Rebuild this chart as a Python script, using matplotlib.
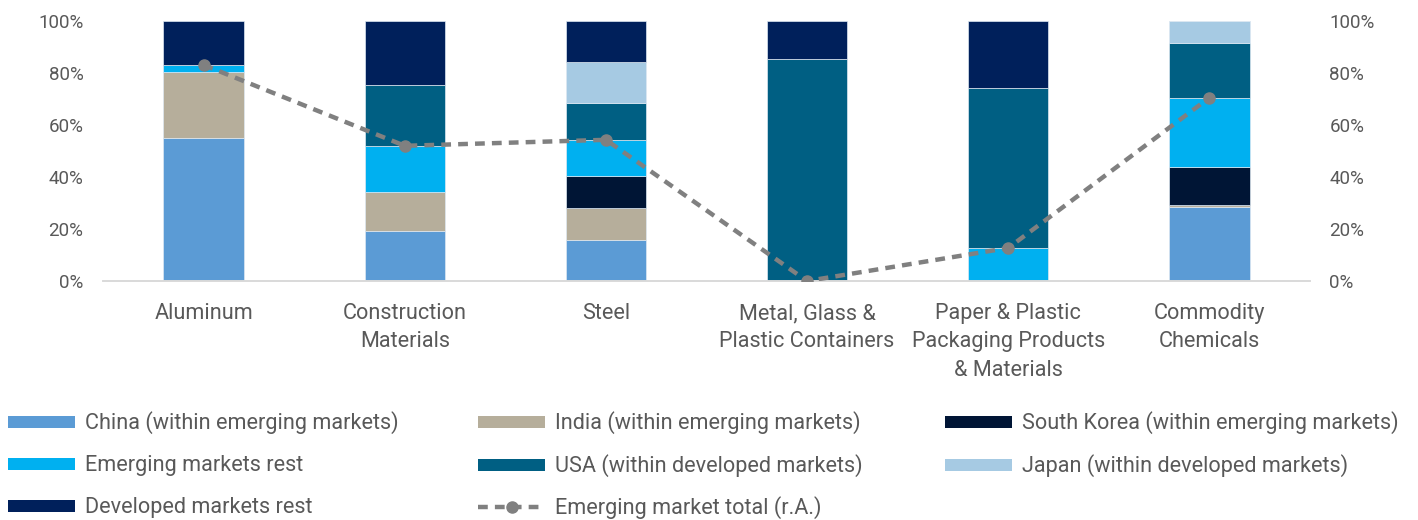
import matplotlib
matplotlib.use("Agg")
import matplotlib.pyplot as plt
from matplotlib.patches import Patch
from matplotlib.lines import Line2D
from matplotlib.ticker import PercentFormatter
import numpy as np

plt.rcParams['font.family'] = ['Roboto', 'DejaVu Sans']

# data (shares, %)
categories = ["Aluminum", "Construction\nMaterials", "Steel", "Metal, Glass &\nPlastic Containers",
              "Paper & Plastic\nPackaging Products\n& Materials", "Commodity\nChemicals"]
china = [55.1, 19.1, 15.6, 0.0, 0.0, 28.6]
india = [25.4, 15.2, 12.4, 0.0, 0.0, 0.5]
south_korea = [0.0, 0.0, 12.5, 0.0, 0.0, 14.9]
em_rest = [2.6, 17.7, 13.8, 0.0, 12.7, 26.5]
usa = [0.0, 23.3, 14.3, 85.4, 61.5, 20.9]
japan = [0.0, 0.0, 15.7, 0.0, 0.0, 8.6]
dev_rest = [16.9, 24.7, 15.7, 14.6, 25.8, 0.0]
em_total = [83.1, 52.0, 54.3, 0.0, 12.7, 70.5]

series = [
    ("China (within emerging markets)", china, "#5B9BD5"),
    ("India (within emerging markets)", india, "#B6AE9B"),
    ("South Korea (within emerging markets)", south_korea, "#001535"),
    ("Emerging markets rest", em_rest, "#00B0F0"),
    ("USA (within developed markets)", usa, "#005F83"),
    ("Japan (within developed markets)", japan, "#A6CAE3"),
    ("Developed markets rest", dev_rest, "#00205B"),
]
line_color = "#808080"
text_color = "#595959"
fs_tick = 13.5
fs_text = 15.6

fig = plt.figure(figsize=(14.18, 5.2), dpi=100)
ax = fig.add_axes([103 / 1418, 1 - 281 / 520, (1310 - 103) / 1418, 260 / 520])
ax2 = ax.twinx()

x = np.arange(len(categories))
bottom = np.zeros(len(categories))
for name, vals, col in series:
    vals = np.array(vals)
    ax.bar(x, vals, 0.4, bottom=bottom, color=col, edgecolor="#dde8f2", linewidth=0.5)
    bottom += vals

dash = (0, (2.2, 1.6))
ax2.plot(x, em_total, color=line_color, linestyle=dash, linewidth=3.2,
         marker="o", markersize=8, zorder=5)

for a in (ax, ax2):
    a.set_ylim(0, 100)
    a.set_xlim(-0.5, len(categories) - 0.5)
    a.yaxis.set_major_locator(plt.MultipleLocator(20))
    a.yaxis.set_major_formatter(PercentFormatter(decimals=0))
    a.tick_params(axis="y", length=0, pad=14, labelsize=fs_tick, labelcolor=text_color)
    for s in ("top", "left", "right"):
        a.spines[s].set_visible(False)
    a.spines["bottom"].set_color("#d9d9d9")
    a.spines["bottom"].set_linewidth(1.2)

ax.set_xticks(x)
ax.set_xticklabels(categories, linespacing=1.45)
ax.tick_params(axis="x", length=0, pad=16, labelsize=fs_text, labelcolor=text_color)

handles = [Patch(facecolor=c, label=n) for n, _, c in series]
em_line = Line2D([], [], color=line_color, linestyle=dash, linewidth=3.2,
                 marker="o", markersize=8, label="Emerging market total (r.A.)")

# legend grid: one entry per cell so rows line up exactly
col_x = [8, 478, 945]
row_y = [423, 466, 508]
grid = [
    [handles[0], handles[1], handles[2]],
    [handles[3], handles[4], handles[5]],
    [handles[6], em_line],
]
for r, row in enumerate(grid):
    for c, h in enumerate(row):
        leg = fig.legend(handles=[h], loc="center left",
                         bbox_to_anchor=(col_x[c] / 1418, 1 - row_y[r] / 520),
                         frameon=False, fontsize=fs_text, handlelength=3.1, handleheight=0.5,
                         handletextpad=0.45, borderaxespad=0, borderpad=0)
        for t in leg.get_texts():
            t.set_color(text_color)

fig.savefig("out.png", dpi=100)
